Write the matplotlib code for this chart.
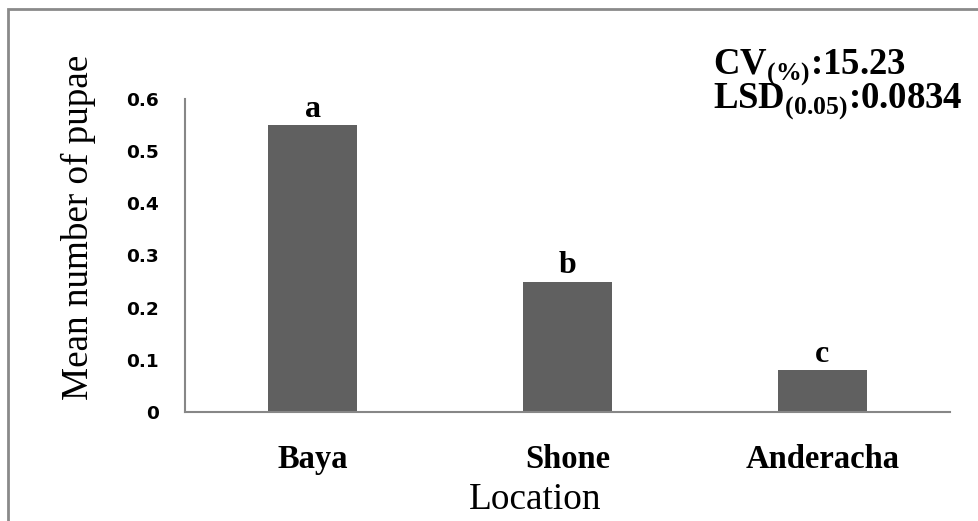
import matplotlib.pyplot as plt
from matplotlib.patches import Rectangle

locations = ['Baya', 'Shone', 'Anderacha']
mean_pupae = [0.55, 0.25, 0.08]
letters = ['a', 'b', 'c']
yticks = [0, 0.1, 0.2, 0.3, 0.4, 0.5, 0.6]
ytick_labels = ['0', '0.1', '0.2', '0.3', '0.4', '0.5', '0.6']

plt.rcParams['mathtext.fontset'] = 'custom'
plt.rcParams['mathtext.bf'] = 'Liberation Serif:bold'
plt.rcParams['mathtext.rm'] = 'Liberation Serif:bold'

W, H = 979, 521
fig = plt.figure(figsize=(W / 100, H / 100), dpi=100)
ax = fig.add_axes([185 / W, 1 - 412 / H, 765 / W, 313 / H])

bar_col = '#606060'
axis_col = '#878787'

x = range(len(locations))
ax.bar(x, mean_pupae, width=0.35, color=bar_col)
ax.set_xlim(-0.5, 2.5)
ax.set_ylim(0, 0.6)

# significance letters over bars
for xi, v, lt in zip(x, mean_pupae, letters):
    ax.annotate(lt, (xi, v), xytext=(0, 6), textcoords='offset points',
                ha='center', va='baseline', fontsize=23, fontweight='bold',
                family='Liberation Serif')

for s in ['top', 'right']:
    ax.spines[s].set_visible(False)
for s in ['left', 'bottom']:
    ax.spines[s].set_color(axis_col)
    ax.spines[s].set_linewidth(1.5)

ax.set_yticks(yticks)
ax.set_yticklabels(ytick_labels, fontsize=13.3, fontweight='bold',
                   family='DejaVu Sans')
ax.set_xticks(list(x))
ax.set_xticklabels(locations, fontsize=23.5, fontweight='bold',
                   family='Liberation Serif')
ax.tick_params(axis='y', length=0, pad=19)
ax.tick_params(axis='x', length=0, pad=23)

fig.text(78 / W, 1 - 227 / H, 'Mean number of pupae', rotation=90,
         ha='center', va='center', fontsize=26.7, family='Liberation Serif')
fig.text(535 / W, 1 - 500 / H, 'Location', ha='center', va='center',
         fontsize=26.8, family='Liberation Serif')

fig.text(713 / W, 1 - 73 / H, r'$\mathbf{CV}_{\mathbf{(\%)}}$:15.23',
         ha='left', va='baseline', fontsize=26.5, fontweight='bold',
         family='Liberation Serif')
fig.text(713 / W, 1 - 107 / H, r'$\mathbf{LSD}_{\mathbf{(0.05)}}$:0.0834',
         ha='left', va='baseline', fontsize=26.5, fontweight='bold',
         family='Liberation Serif')

# outer chart frame
fig.patches.append(Rectangle((8 / W, -0.05), 1.1, 1 - 9 / H + 0.05,
                             transform=fig.transFigure, fill=False,
                             edgecolor='#8a8a8a', linewidth=2))

fig.savefig('out.png', dpi=100)
